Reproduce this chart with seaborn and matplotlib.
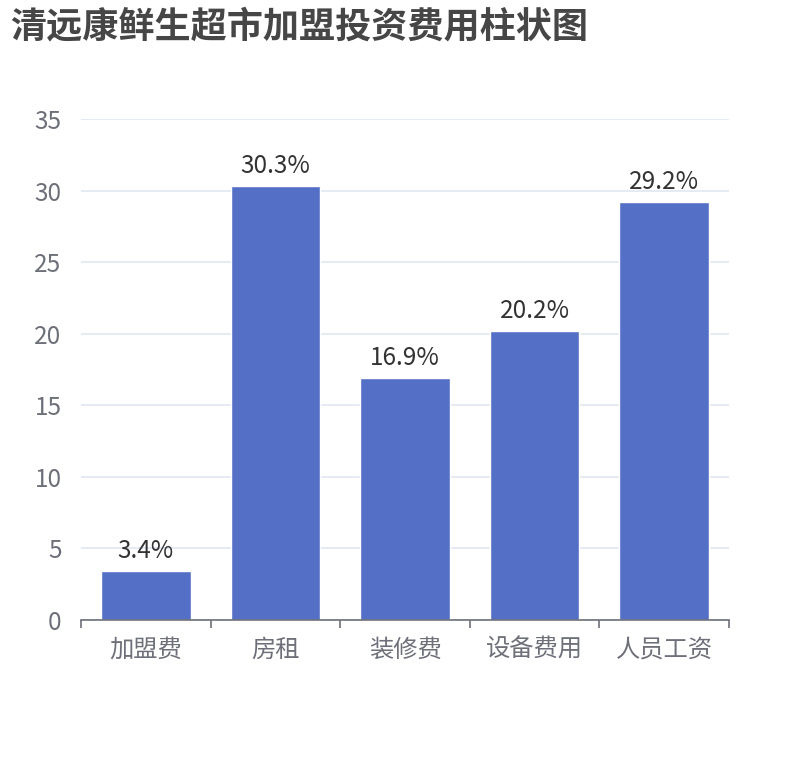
import matplotlib
matplotlib.use('Agg')
import matplotlib.pyplot as plt
import seaborn as sns
import numpy as np
import pandas as pd

sns.set_style('white')
plt.rcParams['font.family'] = ['Noto Sans CJK SC', 'DejaVu Sans']

# 数据
categories = ['加盟费', '房租', '装修费', '设备费用', '人员工资']
values = [3.4, 30.3, 16.9, 20.2, 29.2]
y_ticks = [0, 5, 10, 15, 20, 25, 30, 35]

df = pd.DataFrame({'item': categories, 'pct': values})

fig = plt.figure(figsize=(8.1, 7.6), dpi=100)
ax = fig.add_axes([0.1, 0.1842, 0.8, 0.6592])

sns.barplot(data=df, x='item', y='pct', color='#5470c6', saturation=1,
            width=0.69, ax=ax, zorder=3)

ax.set_ylim(0, 35)
ax.set_xlim(-0.5, len(categories) - 0.5)
ax.set_yticks(y_ticks)
ax.yaxis.grid(True, color='#e0e6f1', linewidth=1.2, zorder=0)
ax.set_axisbelow(True)

for s in ['top', 'right', 'left']:
    ax.spines[s].set_visible(False)
ax.spines['bottom'].set_color('#6e7079')
ax.spines['bottom'].set_linewidth(1.2)
ax.spines['bottom'].set_zorder(4)

# x 轴刻度放在类目边界
ax.set_xticks(np.arange(-0.5, len(categories) + 0.5, 1), minor=False)
ax.set_xticklabels([])
ax.set_xticks(np.arange(len(categories)), minor=True)
ax.set_xticklabels(categories, minor=True)
ax.tick_params(axis='x', which='major', direction='out', length=6,
               width=1.2, color='#6e7079', bottom=True)
ax.tick_params(axis='x', which='minor', length=0, pad=12,
               labelsize=17.5, labelcolor='#6e7079')
ax.tick_params(axis='y', length=0, pad=14, labelsize=17.5,
               labelcolor='#6e7079')

ax.set_xlabel('')
ax.set_ylabel('')

for i, v in enumerate(values):
    ax.annotate(f'{v}%', (i, v), xytext=(0, 5), textcoords='offset points',
                ha='center', va='bottom', fontsize=17.5, color='#333333')

fig.text(10 / 810, 1 - 27 / 760, '清远康鲜生超市加盟投资费用柱状图',
         fontsize=26, fontweight='bold', color='#464646',
         ha='left', va='center')

fig.savefig('out.png', dpi=100)
